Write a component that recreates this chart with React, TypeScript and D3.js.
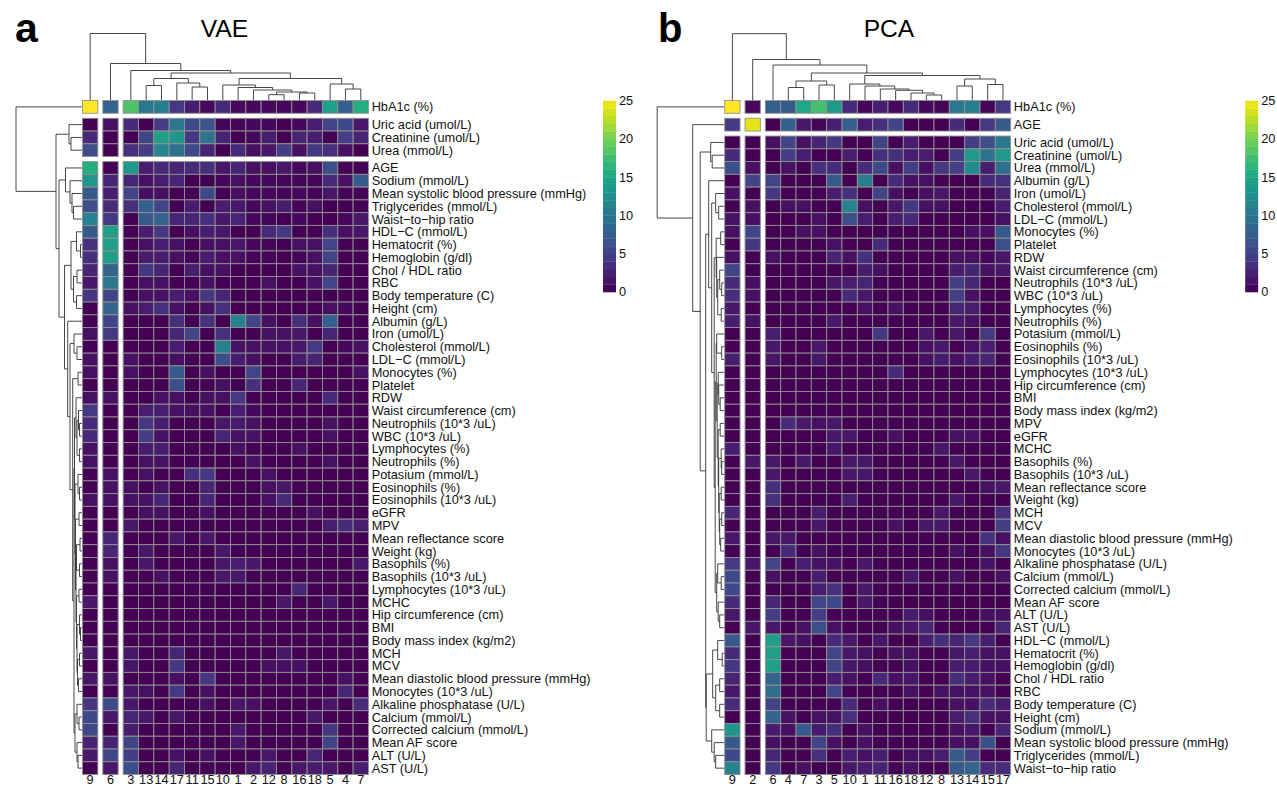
import * as d3 from 'd3'

type TreeNode = number | [number, TreeNode, TreeNode]

const vaeCols = ['9', '6', '3', '13', '14', '17', '11', '15', '10', '1', '2', '12', '8', '16', '18', '5', '4', '7']
const pcaCols = ['9', '2', '6', '4', '7', '3', '5', '10', '1', '11', '16', '18', '12', '8', '13', '14', '15', '17']

const vaeRows = [
  'HbA1c (%)', 'Uric acid (umol/L)', 'Creatinine (umol/L)', 'Urea (mmol/L)', 'AGE', 'Sodium (mmol/L)',
  'Mean systolic blood pressure (mmHg)', 'Triglycerides (mmol/L)', 'Waist\u2212to\u2212hip ratio', 'HDL\u2212C (mmol/L)',
  'Hematocrit (%)', 'Hemoglobin (g/dl)', 'Chol / HDL ratio', 'RBC', 'Body temperature (C)', 'Height (cm)',
  'Albumin (g/L)', 'Iron (umol/L)', 'Cholesterol (mmol/L)', 'LDL\u2212C (mmol/L)', 'Monocytes (%)', 'Platelet', 'RDW',
  'Waist circumference (cm)', 'Neutrophils (10*3 /uL)', 'WBC (10*3 /uL)', 'Lymphocytes (%)', 'Neutrophils (%)',
  'Potasium (mmol/L)', 'Eosinophils (%)', 'Eosinophils (10*3 /uL)', 'eGFR', 'MPV', 'Mean reflectance score',
  'Weight (kg)', 'Basophils (%)', 'Basophils (10*3 /uL)', 'Lymphocytes (10*3 /uL)', 'MCHC', 'Hip circumference (cm)',
  'BMI', 'Body mass index (kg/m2)', 'MCH', 'MCV', 'Mean diastolic blood pressure (mmHg)', 'Monocytes (10*3 /uL)',
  'Alkaline phosphatase (U/L)', 'Calcium (mmol/L)', 'Corrected calcium (mmol/L)', 'Mean AF score', 'ALT (U/L)', 'AST (U/L)',
]

const pcaRows = [
  'HbA1c (%)', 'AGE', 'Uric acid (umol/L)', 'Creatinine (umol/L)', 'Urea (mmol/L)', 'Albumin (g/L)', 'Iron (umol/L)',
  'Cholesterol (mmol/L)', 'LDL\u2212C (mmol/L)', 'Monocytes (%)', 'Platelet', 'RDW', 'Waist circumference (cm)',
  'Neutrophils (10*3 /uL)', 'WBC (10*3 /uL)', 'Lymphocytes (%)', 'Neutrophils (%)', 'Potasium (mmol/L)', 'Eosinophils (%)',
  'Eosinophils (10*3 /uL)', 'Lymphocytes (10*3 /uL)', 'Hip circumference (cm)', 'BMI', 'Body mass index (kg/m2)', 'MPV',
  'eGFR', 'MCHC', 'Basophils (%)', 'Basophils (10*3 /uL)', 'Mean reflectance score', 'Weight (kg)', 'MCH', 'MCV',
  'Mean diastolic blood pressure (mmHg)', 'Monocytes (10*3 /uL)', 'Alkaline phosphatase (U/L)', 'Calcium (mmol/L)',
  'Corrected calcium (mmol/L)', 'Mean AF score', 'ALT (U/L)', 'AST (U/L)', 'HDL\u2212C (mmol/L)', 'Hematocrit (%)',
  'Hemoglobin (g/dl)', 'Chol / HDL ratio', 'RBC', 'Body temperature (C)', 'Height (cm)', 'Sodium (mmol/L)',
  'Mean systolic blood pressure (mmHg)', 'Triglycerides (mmol/L)', 'Waist\u2212to\u2212hip ratio',
]

// one line per row
const vaeValues = [
  [25, 8, 18, 10, 10.5, 4, 2, 0.5, 3, 0.5, 0.5, 0.5, 0.5, 0.5, 3, 14, 7.5, 15.5],
  [0, 1, 3, 0, 4.5, 10, 5.5, 6.5, 0.3, 0.3, 0.5, 0.5, 0, 0.5, 2, 5, 5.5, 1.5],
  [3, 0, 0, 5, 14, 13, 4, 9.5, 2.5, 0, 0.5, 2, 0, 2.5, 2, 0, 4.5, 2.5],
  [6, 0, 3.5, 4.5, 11.5, 9, 5.5, 2.5, 0, 3, 1, 1.5, 4.5, 1, 4, 3.5, 1, 0],
  [15.5, 0, 13.5, 2, 3, 2.5, 3, 3.5, 1.5, 2.5, 1, 1, 1.5, 0.5, 1, 6, 0, 0],
  [13, 2.5, 2.5, 1, 2, 2.5, 0, 0, 0.5, 1, 0.5, 0.5, 0.3, 0.3, 0.3, 3, 1, 7],
  [7, 2, 5, 1, 1, 0, 0, 5.5, 0, 1, 0.5, 0.5, 0.3, 0.5, 0.3, 1.5, 0.3, 0.3],
  [6, 3, 3.5, 7.5, 5, 0, 2, 0, 2, 1.5, 0.5, 1, 2, 0.3, 1, 0, 0, 0],
  [11, 4, 0, 7, 8, 2.5, 2.5, 3.5, 1.5, 2.5, 0.5, 0.3, 0, 0.5, 0, 0, 0.5, 1.5],
  [7, 14, 0, 2, 4, 0, 1, 2, 1.5, 0, 0, 3, 4, 0, 0, 3.5, 1, 1.5],
  [3.5, 14, 0, 1, 2, 1, 0, 1, 1, 1.5, 0.5, 0.3, 0, 1, 1, 5, 0, 0],
  [3.5, 14, 0, 2, 2, 1, 0.3, 2, 1, 1, 0.3, 0.3, 0, 0.3, 1, 5, 0, 0],
  [2.5, 8, 0, 4, 2.5, 0, 2, 1, 1, 0, 0, 0, 0, 1, 1, 2.5, 0, 0],
  [1.5, 10, 0, 1, 1, 0, 0, 1, 0, 0, 0, 1, 0, 0, 1, 5, 0, 0],
  [4, 5, 0, 1, 1, 2, 1, 4, 2.5, 0, 0, 0, 0, 0, 0, 0, 0, 0],
  [0, 8, 1, 2, 3.5, 1, 0, 1, 3.5, 0, 0, 0, 0, 0, 0, 1, 0.5, 0],
  [0, 5, 0, 0, 0, 3.5, 0, 3.5, 0, 11, 5, 1, 0, 3.5, 1, 7.5, 0, 0],
  [1, 4, 0, 0, 0, 2.5, 5, 0, 3.5, 0, 0, 1, 1, 1.5, 0, 2.5, 0, 0],
  [0, 0, 0, 0, 0, 2, 0, 0, 11, 1, 1, 1, 1, 1.5, 4, 0, 0.5, 1],
  [1, 0, 1, 0, 0, 1, 0, 0, 6, 2, 1, 0, 0, 2, 2.5, 0, 0, 0],
  [1, 0, 1, 0, 0, 7, 0, 1, 0, 0, 5, 0, 0, 0, 0, 0, 0, 1],
  [0, 0, 0, 0, 0, 6, 0, 0, 1, 0, 3.5, 0, 0, 2.5, 0, 0, 0, 0],
  [1, 1, 0, 0, 1, 1, 0, 1, 1, 4, 0, 0, 0, 0, 0, 3, 0, 0],
  [4, 0, 0, 2, 2, 1, 1, 1, 0, 2, 0.5, 0, 0, 0, 0, 0, 0, 0],
  [3, 0, 0, 4, 2, 0, 0, 0, 1.5, 2, 1, 0, 0, 0, 0, 1, 0, 0],
  [3, 0, 0, 4.5, 1, 0, 0, 0, 2.5, 1, 1, 0, 0, 0, 0, 1, 0, 0],
  [1, 0, 0, 2, 2, 0, 0, 0, 0, 1, 0, 0, 0, 1, 0, 0, 0, 0],
  [1, 0, 0, 1, 1, 0, 0, 0, 0, 0, 1, 0, 0, 0, 0, 1, 0, 0],
  [0, 1, 0, 1, 0, 0, 3.5, 4, 0, 0, 0, 1, 0, 0, 0, 0, 0, 0],
  [0, 1, 1, 0, 1, 0, 0, 2.5, 0, 0, 0, 1, 1.5, 0, 0, 0, 0, 0],
  [1, 1, 1, 1, 2.5, 0, 0, 2.5, 0, 0, 0, 1, 3, 0, 0, 0, 0, 0],
  [0, 0, 0, 1, 1, 0, 0, 1, 0, 0, 0, 0, 0, 0, 1, 0, 0, 0],
  [0, 0, 1.5, 0, 0, 0, 0, 0, 0, 0, 0, 0, 0, 0, 0, 2, 3, 2],
  [0, 2.5, 0, 0, 0, 1.5, 0, 1.5, 0, 0, 0, 0, 0, 0, 0, 0, 0, 0],
  [0, 2.5, 0, 1.5, 0, 0, 0, 0, 1.5, 0, 0, 0, 0, 0, 0, 0, 0, 0],
  [0, 1, 0, 1.5, 0, 0, 0, 0, 1.5, 2, 1.5, 0, 0, 0, 0, 0, 0, 1.5],
  [0, 1, 0, 0, 1, 0, 0, 0, 1.5, 1.5, 0, 0, 0, 0, 0, 0, 0, 0],
  [0, 0, 0, 0, 0, 0, 0, 0, 0, 0, 0, 0, 0, 2.5, 0, 0, 0, 0],
  [1.5, 0, 0, 0, 0, 0, 0, 0, 0, 0, 0, 0, 1.5, 0, 0, 1.5, 0, 0],
  [0, 0, 0, 0, 0, 0, 0, 0, 0, 0, 0, 0, 0, 0, 0, 0, 0, 0],
  [0, 0, 0, 0, 0, 0, 0, 0, 0, 0, 0, 0, 0, 0, 0, 0, 0, 0],
  [0, 0, 0, 0, 0, 0, 0, 0, 0, 0, 0, 0, 0, 0, 0, 0, 0, 0],
  [1.5, 0, 1.5, 0, 0, 2.5, 0, 0, 0, 0, 0, 0, 1.5, 0, 0, 0, 0, 0],
  [0, 0, 1.5, 0, 0, 4, 0, 0, 0, 0, 0, 1, 1, 1, 0, 0, 0, 0],
  [1.5, 1, 0, 0, 0, 1, 0, 4, 0, 0, 0, 0, 0, 0, 0, 0, 1, 0],
  [0, 0, 1.5, 1, 0, 4, 0, 1, 0, 0, 0, 0, 0, 0, 0, 0, 2.5, 0],
  [4, 5.5, 1.5, 0, 0, 0, 0, 1, 0, 1.5, 1, 0, 0, 0, 0, 1.5, 0, 3],
  [5.5, 1.5, 2.5, 1.5, 0, 1.5, 0, 0, 0, 0, 0, 0, 0, 0, 1.5, 0, 0, 0],
  [5.5, 0, 2, 0, 0, 0, 0, 0, 0, 1.5, 0, 0, 0, 0, 0, 4, 0, 0],
  [2.5, 2.5, 5, 0, 0, 0, 0, 0, 0, 1.5, 0, 0, 0, 0, 0, 5, 0, 0],
  [1.5, 5, 4.5, 0, 0, 1, 0, 1, 0, 0, 0, 1.5, 0, 0, 2.5, 0, 0, 0],
  [0, 1.5, 6, 0, 0, 2.5, 0, 0, 0, 0, 1.5, 2.5, 0, 1.5, 2, 1.5, 0, 2],
]

const pcaValues = [
  [25, 0.5, 7.5, 7, 15, 17.5, 13.5, 3, 0.3, 2, 0.5, 3, 0.5, 0.3, 10, 10.5, 0.3, 4],
  [4, 24, 0, 7.5, 1.5, 0.3, 2, 7.5, 2, 3.5, 5, 0, 0, 0, 3, 0, 4, 7],
  [0, 0, 1, 5, 1, 2.5, 4, 0, 0, 5, 0, 2, 0, 0, 0, 4.5, 6, 10],
  [3, 0, 0, 4.5, 2, 0, 0, 2, 0, 3.5, 3.5, 2, 2, 0, 4.5, 13.5, 9.5, 13.5],
  [6, 1, 0, 1, 0, 3.5, 3, 0, 3, 5.5, 1, 4.5, 1, 4, 4.5, 12, 2, 9],
  [0, 5, 5, 0, 0, 0, 7, 0, 10.5, 0, 3, 1, 1, 0, 0, 0, 3, 3.5],
  [1, 0, 4, 0, 0, 0, 2, 3.5, 0, 5, 1, 0, 1, 1.5, 0, 0, 0, 2.5],
  [0, 1, 0, 1, 1, 0, 0, 11, 1, 0, 1.5, 4, 1, 1, 0, 0, 0, 2],
  [1, 1, 0, 0, 0, 1, 0, 6, 2, 0, 2, 3, 0, 0, 0, 0, 0, 1],
  [1, 5, 0, 0, 1, 1, 0, 0, 0, 0, 0, 0, 0, 0, 0, 1, 1, 7],
  [0, 4, 0, 0, 0, 0, 1, 0, 0, 3, 0, 0, 0, 0, 0, 0, 0, 6],
  [1, 0, 1, 0, 0, 0, 2.5, 1, 3.5, 0, 0, 0, 0, 0, 1, 1, 0.5, 1.5],
  [5, 0, 0, 0, 0, 0, 0, 0, 2, 1, 0, 0, 0, 0, 2, 2.5, 1, 1.5],
  [3, 1, 0, 0, 0, 0, 1.5, 2, 2.5, 0, 0, 0, 0, 0, 4.5, 2.5, 0, 0],
  [3.5, 1, 0, 0, 0, 0, 0, 3, 1.5, 0, 0, 0, 0, 0, 4.5, 1, 0, 0],
  [1.5, 0, 0, 0, 0, 0, 0, 0, 1, 0, 1, 0, 0, 0, 2.5, 2, 0, 0],
  [2, 1, 0, 0, 0, 0, 1.5, 0, 0, 0, 0, 0, 0, 0, 1.5, 1, 0, 0],
  [0, 0, 2, 0, 0, 0, 0, 0, 0, 4, 0, 0, 1.5, 0, 1.5, 0, 4, 0],
  [0, 0, 1.5, 0, 0, 1.5, 0, 0, 0, 0, 0, 0, 1, 1.5, 0, 1, 2, 0],
  [2, 0, 1.5, 0, 0, 1.5, 0, 0, 0, 0, 0, 0, 1, 2, 1, 2, 2.5, 0],
  [0, 0, 0, 0, 0, 0, 0, 0, 0, 0, 3, 0, 0, 0, 0, 0, 0, 0],
  [0, 0, 0, 0, 0, 0, 0, 0, 0, 0, 0, 0, 0, 0, 0, 0, 0, 0],
  [0, 0, 0, 0, 0, 0, 0, 0, 0, 0, 0, 0, 0, 0, 0, 0, 0, 0],
  [0, 0, 0, 0, 0, 0, 0, 0, 0, 0, 0, 0, 0, 0, 0, 0, 0, 0],
  [0, 0, 0, 3, 1.5, 1, 1.5, 0, 0, 0, 0, 0, 0, 0, 0, 0, 0, 0],
  [0, 0, 0, 0, 0, 0, 1.5, 1.5, 0, 0, 1, 0, 0, 0, 1, 1, 0, 0],
  [2, 0, 0, 0, 0, 0, 1.5, 0, 0, 0, 0, 0, 0, 1.5, 0, 0, 0, 0],
  [0, 1.5, 1.5, 0, 1.5, 0, 0, 1.5, 1.5, 0, 0, 0, 0, 0, 1.5, 0, 0, 0],
  [0, 0, 1.5, 0, 0, 0, 0, 1.5, 1.5, 0, 0, 0, 0, 0, 0, 1.5, 0, 0],
  [0, 0, 3.5, 0, 0, 0, 0, 0, 0, 0, 0, 0, 0, 0, 0, 0, 1, 1.5],
  [0, 0, 3.5, 0, 0, 0, 0, 2, 0, 0, 0, 0, 0, 0, 1.5, 0, 0, 0],
  [2.5, 0, 0, 0, 0, 2, 0, 0, 0, 0, 0, 0, 0, 1.5, 0, 0, 0, 3.5],
  [0, 0, 0, 0, 0, 1.5, 0, 0, 0, 0, 1, 0, 1.5, 1.5, 0, 0, 0, 4.5],
  [1.5, 0, 1.5, 1.5, 0, 0, 0, 0, 0, 0, 0, 0, 0, 0, 0, 0, 3.5, 1],
  [0, 0, 0, 3, 0, 1, 0, 0, 0, 0, 0, 0, 0, 0, 1, 0, 1, 4],
  [4, 1.5, 5, 0, 2, 1, 1, 0, 1.5, 0, 0, 0, 0, 0, 0, 0, 1, 0],
  [5.5, 0, 1, 0, 0, 2, 0, 0, 0, 0, 0, 1.5, 0, 0, 1, 0, 0, 1],
  [5.5, 0, 0, 0, 0, 2, 3.5, 0, 1.5, 0, 0, 0, 0, 0, 0, 0, 0, 0],
  [3, 0, 2.5, 0, 0, 5, 5.5, 0, 1.5, 0, 0, 0, 0, 0, 0, 0, 0, 0],
  [1.5, 0, 4.5, 0, 0, 4.5, 0, 0, 0, 0, 0, 2, 1, 0, 0, 0, 1, 1],
  [0, 1.5, 1.5, 0, 1, 6, 1, 0, 0, 0, 1, 1.5, 2.5, 0, 0, 0, 0, 2.5],
  [7, 0, 14, 1.5, 1, 0, 3, 1.5, 0, 1.5, 0, 0, 2, 3.5, 2.5, 4, 2, 0],
  [3, 0, 14, 0, 0, 0, 5, 1.5, 1, 0, 1, 1, 0, 0, 1.5, 2, 1, 1],
  [4, 0, 14, 0, 0, 0, 5, 1.5, 1, 0, 0, 1, 0, 0, 2, 2, 1, 1],
  [2.5, 0, 8, 0, 0, 0, 2, 1, 0, 3, 1, 1.5, 0, 0, 3.5, 2, 1, 0],
  [1.5, 0, 9, 0, 0, 0, 5, 0, 0, 0, 0, 1, 0, 1, 1, 1, 1, 0],
  [3, 0, 5, 0, 0, 0, 0, 3, 0, 1, 0, 0, 0, 0, 1, 1, 3, 2],
  [0, 0, 8, 1, 0, 1, 1, 3.5, 0, 0, 0, 0, 0, 0, 2, 3.5, 1, 1],
  [13, 0, 2, 1, 7, 2, 3.5, 0, 1, 0, 0, 0, 0, 0, 1, 1.5, 0, 2.5],
  [7, 0, 1, 0, 0, 5, 1, 0, 1, 0, 0, 0, 0, 0, 1, 1, 6, 0],
  [5.5, 0, 2.5, 0, 0, 3.5, 0, 2, 1, 2, 0, 1, 1, 2, 7, 4.5, 0, 0],
  [11, 0, 4, 0, 1, 0, 0, 1.5, 2, 2.5, 0, 1, 0, 0, 7, 8, 3, 3],
]

// dendrograms: [merge height, child, child], a plain number is a leaf index
const vaeColTree: TreeNode = [66.5, 0, [36.5, 1, [29.5, 2, [27,
  [21.5, [14.5, 3, 4], [17, 5, [13, 6, 7]]],
  [21.5,
    [15, 8, [12.5, 9, [10, 10, [8, [5.3, 11, 12], [7, 13, 14]]]]],
    [16, 15, [11, 16, 17]]],
]]]]

const pcaColTree: TreeNode = [66.3, 0, [40.5, 1, [35, 2, [27,
  [19, [12.5, 3, 4], [15, 5, 6]],
  [24.5,
    [16, 7, [14, 8, [11, 9, [9.7, 10, [7, 11, [5, 12, 13]]]]]],
    [21, [14, 14, 15], [15.5, 16, 17]]],
]]]]

const vaeRowTree: TreeNode = [66, 0, [26,
  [13, 1, [11, 2, 3]],
  [23,
    [16.5, 4, [12, 5, [10, 6, [8.5, 7, 8]]]],
    [17.5,
      [11, [5.5, 9, [1.5, 10, 11]], [8.5, [5, 12, 13], [5.5, 14, 15]]],
      [14.3, 16, [12,
        [8, 17, [5, 18, 19]],
        [9.3, [4, 20, 21], [8,
          [7.5,
            [6, 22, [5, [3.5, 23, [2.5, 24, 25]], [2.5, 26, 27]]],
            [7,
              [4, 28, [2.5, 29, 30]],
              [6.5,
                [3, 31, 32],
                [6, [5.5, [2, 33, 34], [2.5, 35, 36]], [5.5, [3, 37, 38], [5,
                  [2.5, 39, [1.5, 40, 41]],
                  [4.5, [2.5, 42, 43], [3.5, 44, 45]],
                ]]],
              ]]],
          [7, [5, 46, [3, 47, 48]], [5, 49, [4, 50, 51]]],
        ]],
      ]],
    ],
  ],
]]

const pcaRowTree: TreeNode = [67, 0, [31.5, 1, [24,
  [13.5, 2, [12, 3, 4]],
  [18.5,
    [15.5, 5, [12.5,
      [8.5, 6, [5.5, 7, 8]],
      [10, 
        [8, [3.5, 9, 10], [7.5, 11, [6.5, [4.5, 12, [2.5, 13, 14]], [3, 15, 16]]]],
        [9, 
          [8, 
            [7.5, 17, [2.5, 18, 19]],
            [7, [6, 20, [5.5, 21, [4, 22, 23]]], [6, [4, 24, 25], [5.5, [3, 26, [2.5, 27, 28]], [5, [3, 29, 30], [4.5, [2.5, 31, 32], [3.5, 33, 34]]]]]],
          ],
          [7.5, [6.5, 35, [3, 36, 37]], [6, 38, [4.5, 39, 40]]],
        ],
      ],
    ]],
    [18,
      [11.5, [6.5, 41, [2, 42, 43]], [8.5, [4.5, 44, 45], [4.5, 46, 47]]],
      [12.5, 48, [10, 49, [8.5, 50, 51]]],
    ],
  ],
]]]

const legendTicks = [0, 5, 10, 15, 20, 25]
const legendBands = d3.range(25)

const width = 1277
const height = 787
const cellW = 15.33
const cellH = 12.77
const gap = 5
const top = 100.5
const labelSize = 12.75
const fontFamily = '"Liberation Sans", Arial, sans-serif'

const color = d3.scaleSequential(d3.interpolateViridis).domain([0, 25])
const legendY = d3.scaleLinear().domain([0, 25]).range([292, 100.7])

function treePath(
  tree: TreeNode,
  leafPos: (i: number) => number,
  point: (pos: number, h: number, p: d3.Path, move?: boolean) => void,
) {
  const p = d3.path()
  const walk = (node: TreeNode): { pos: number; h: number } => {
    if (typeof node === 'number') return { pos: leafPos(node), h: 0 }
    const a = walk(node[1])
    const b = walk(node[2])
    point(a.pos, a.h, p, true)
    point(a.pos, node[0], p)
    point(b.pos, node[0], p)
    point(b.pos, b.h, p)
    return { pos: (a.pos + b.pos) / 2, h: node[0] }
  }
  walk(tree)
  return p.toString()
}

type PanelProps = {
  letter: string
  letterSize: number
  title: string
  letterX: number
  titleX: number
  offset: number
  cols: string[]
  rows: string[]
  values: number[][]
  colTree: TreeNode
  rowTree: TreeNode
  rowBreaks: number[]
}

function Panel({ letter, letterSize, title, letterX, titleX, offset, cols, rows, values, colTree, rowTree, rowBreaks }: PanelProps) {
  const left = 82.5 + offset

  const xBand = d3.scaleBand<number>().domain(d3.range(cols.length)).range([left, left + cols.length * cellW])
  const yBand = d3.scaleBand<number>().domain(d3.range(rows.length)).range([top, top + rows.length * cellH])
  const colBreaks = [1, 2]

  const xPos = (i: number) => xBand(i)! + colBreaks.filter((b) => i >= b).length * gap
  const yPos = (i: number) => yBand(i)! + rowBreaks.filter((b) => i >= b).length * gap

  const colH = d3.scaleLinear().domain([0, 66.5]).range([100, 33.5])
  const rowH = d3.scaleLinear().domain([0, 66]).range([left - 0.5, left - 66.5])

  const colPath = treePath(colTree, (i) => xPos(i) + cellW / 2, (pos, h, p, move) => {
    if (move) p.moveTo(pos, colH(h))
    else p.lineTo(pos, colH(h))
  })
  const rowPath = treePath(rowTree, (i) => yPos(i) + cellH / 2, (pos, h, p, move) => {
    if (move) p.moveTo(rowH(h), pos)
    else p.lineTo(rowH(h), pos)
  })

  const labelX = xPos(cols.length - 1) + cellW + 3.2
  const legendX = 603 + offset

  return (
    <g fontFamily={fontFamily}>
      <text x={letterX} y={42} fontSize={letterSize} fontWeight="bold" fill="#000">{letter}</text>
      <text x={titleX} y={37} fontSize={24.6} textAnchor="middle" fill="#000">{title}</text>

      <path d={colPath} fill="none" stroke="#333" strokeWidth={0.9} />
      <path d={rowPath} fill="none" stroke="#333" strokeWidth={0.9} />

      {values.map((row, r) =>
        row.map((v, c) => (
          <rect
            key={`${r}-${c}`}
            x={xPos(c)}
            y={yPos(r)}
            width={cellW}
            height={cellH}
            fill={color(v)}
            stroke="#929292"
            strokeWidth={0.9}
          />
        )),
      )}

      {rows.map((label, r) => (
        <text key={label} x={labelX} y={yPos(r) + cellH / 2} dy="0.35em" fontSize={labelSize} fill="#111">{label}</text>
      ))}
      {cols.map((label, c) => (
        <text key={label} x={xPos(c) + cellW / 2} y={784.3} fontSize={labelSize} textAnchor="middle" fill="#111">{label}</text>
      ))}

      {legendBands.map((b) => (
        <rect
          key={b}
          x={legendX}
          y={legendY(b + 1)}
          width={13}
          height={legendY(b) - legendY(b + 1) + 0.3}
          fill={color(b + 0.3)}
        />
      ))}
      {legendTicks.map((t) => (
        <text key={t} x={legendX + 16} y={legendY(t)} dy="0.35em" fontSize={labelSize} fill="#111">{t}</text>
      ))}
    </g>
  )
}

export default function App() {
  return (
    <svg
      width={width}
      height={height}
      style={{ position: 'absolute', left: 0, top: 0, display: 'block', background: '#fff' }}
    >
      <Panel
        letter="a"
        letterSize={41}
        title="VAE"
        letterX={15}
        titleX={224.5}
        offset={0}
        cols={vaeCols}
        rows={vaeRows}
        values={vaeValues}
        colTree={vaeColTree}
        rowTree={vaeRowTree}
        rowBreaks={[1, 4]}
      />
      <Panel
        letter="b"
        letterSize={40}
        title="PCA"
        letterX={658}
        titleX={889}
        offset={642.2}
        cols={pcaCols}
        rows={pcaRows}
        values={pcaValues}
        colTree={pcaColTree}
        rowTree={pcaRowTree}
        rowBreaks={[1, 2]}
      />
    </svg>
  )
}
